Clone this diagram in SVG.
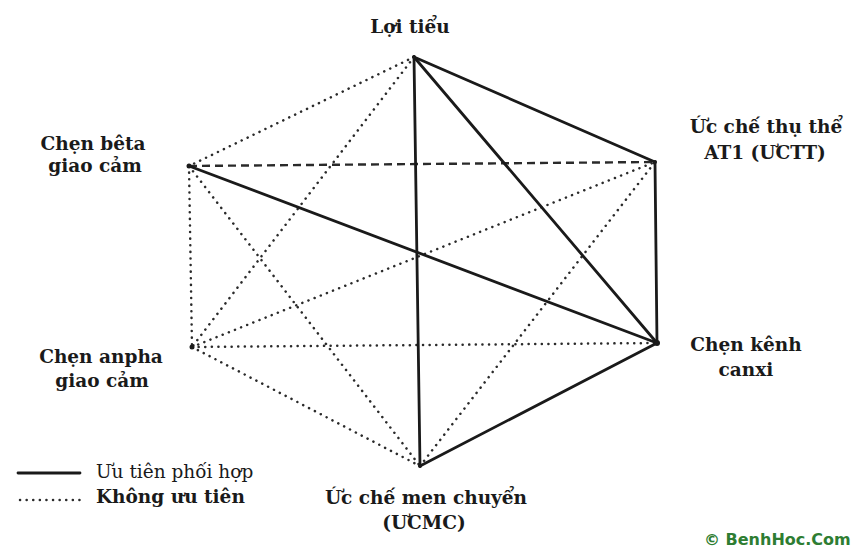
<svg xmlns="http://www.w3.org/2000/svg" width="856" height="548" viewBox="0 0 856 548">
<style>
.solid{stroke:#1a1a1a;stroke-width:2.8;fill:none;stroke-linecap:round}
.dot{stroke:#2a2a2a;stroke-width:2.5;fill:none;stroke-dasharray:0.1 6.5;stroke-linecap:round}
.dash{stroke:#2a2a2a;stroke-width:2.4;fill:none;stroke-dasharray:8 5}
.lbl{font-family:"DejaVu Serif","Liberation Serif",serif;font-weight:bold;font-size:18.5px;fill:#1a1a1a;text-anchor:middle}
.leg{font-family:"DejaVu Serif","Liberation Serif",serif;font-size:18.5px;fill:#1a1a1a}
.wm{font-family:"DejaVu Sans","Liberation Sans",sans-serif;font-weight:bold;font-size:16px;fill:#2e7d32}
</style>
<rect width="856" height="548" fill="#fff"/>
<g id="connectors">
<line class="dot" x1="414" y1="57" x2="189" y2="166"/>
<line class="dot" x1="414" y1="57" x2="192" y2="347"/>
<line class="dot" x1="189" y1="166" x2="192" y2="347"/>
<line class="dot" x1="189" y1="166" x2="420" y2="466"/>
<line class="dot" x1="192" y1="347" x2="420" y2="466"/>
<line class="dot" x1="192" y1="347" x2="657" y2="343"/>
<line class="dot" x1="192" y1="347" x2="655" y2="162"/>
<line class="dot" x1="420" y1="466" x2="655" y2="162"/>
<line class="dash" x1="189" y1="166" x2="655" y2="162"/>
<line class="solid" x1="414" y1="57" x2="655" y2="162"/>
<line class="solid" x1="414" y1="57" x2="657" y2="343"/>
<line class="solid" x1="414" y1="57" x2="420" y2="466"/>
<line class="solid" x1="655" y1="162" x2="657" y2="343"/>
<line class="solid" x1="657" y1="343" x2="420" y2="466"/>
<line class="solid" x1="189" y1="166" x2="657" y2="343"/>
</g>
<g id="node-loi-tieu"><circle cx="414" cy="57" r="2" fill="#1a1a1a"/><text class="lbl" x="410" y="33">Lợi tiểu</text></g>
<g id="node-uctt"><circle cx="655" cy="162" r="2" fill="#1a1a1a"/><text class="lbl" x="766" y="133">Ức chế thụ thể</text><text class="lbl" x="765" y="159">AT1 (ƯCTT)</text></g>
<g id="node-chen-kenh-canxi"><circle cx="657" cy="343" r="3" fill="#1a1a1a"/><text class="lbl" x="746" y="351">Chẹn kênh</text><text class="lbl" x="746" y="376">canxi</text></g>
<g id="node-ucmc"><circle cx="420" cy="466" r="2" fill="#1a1a1a"/><text class="lbl" x="426" y="504">Ức chế men chuyển</text><text class="lbl" x="424" y="529">(ƯCMC)</text></g>
<g id="node-chen-beta"><circle cx="189" cy="166" r="2.5" fill="#1a1a1a"/><text class="lbl" x="93" y="150">Chẹn bêta</text><text class="lbl" x="95" y="172">giao cảm</text></g>
<g id="node-chen-anpha"><circle cx="192" cy="347" r="2.5" fill="#1a1a1a"/><text class="lbl" x="101" y="363">Chẹn anpha</text><text class="lbl" x="102" y="387">giao cảm</text></g>
<g id="legend">
<line class="solid" x1="18" y1="473" x2="80" y2="473" stroke-width="2.2"/>
<text class="leg" x="96" y="478">Ưu tiên phối hợp</text>
<line class="dot" x1="20" y1="500" x2="80" y2="500" stroke-width="1.8"/>
<text class="leg" x="96" y="503" font-weight="bold">Không ưu tiên</text>
</g>
<text class="wm" x="704" y="545">© BenhHoc.Com</text>
</svg>
